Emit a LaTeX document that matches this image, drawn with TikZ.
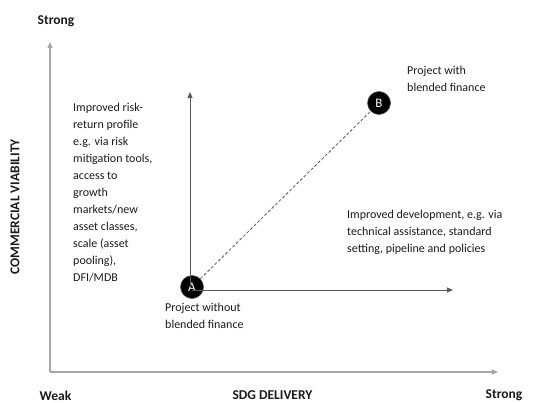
\documentclass[tikz,border=0pt]{standalone}
\usepackage{fontspec}
\setmainfont{Carlito}
\usetikzlibrary{arrows.meta}
\definecolor{axisgray}{HTML}{A6A6A6}
\definecolor{linegray}{HTML}{595959}
\definecolor{txt}{HTML}{1A1A1A}
\begin{document}
\begin{tikzpicture}[x=1pt,y=-1pt,
  axis/.style={draw=axisgray,line width=1.4pt,-{Triangle[length=6pt,width=5pt]}},
  move/.style={draw=linegray,line width=0.8pt,-{Triangle[length=6pt,width=5pt]}},
  pt/.style={circle,fill=black,draw=linegray,line width=0.6pt,minimum size=23pt,inner sep=0pt,text=white,font=\fontsize{13}{15}\selectfont},
  lbl/.style={font=\fontsize{13.5}{16}\selectfont\bfseries,text=txt,inner sep=0pt},
  body/.style={font=\fontsize{12}{17}\selectfont,text=txt,align=left,inner sep=0pt}]
\useasboundingbox (0,0) rectangle (534,403);
% axes
\coordinate (O) at (50,372);
\coordinate (ytop) at (50,42);
\coordinate (xend) at (498,372);
\draw[axis] (O) -- (ytop);
\draw[axis] (O) -- (xend);
% axis labels
\node[lbl] (ystrong) at (56,21) {Strong};
\node[lbl] (weak) at (55.5,395.5) {Weak};
\node[lbl] (sdg) at (272.5,395.5) {SDG DELIVERY};
\node[lbl] (xstrong) at (504,395.5) {Strong};
\node[lbl,rotate=90] (cv) at (15,207) {COMMERCIAL VIABILITY};
% projects
\node[pt] (A) at (192,287) {A};
\node[pt] (B) at (379,103) {B};
\coordinate (up) at (190,92);
\coordinate (right) at (453,290);
\draw[move] (190,287) -- (up);
\draw[move] (192,290) -- (right);
\draw[linegray,line width=0.8pt,dash pattern=on 3pt off 2pt] (A) -- (B);
% texts
\node[body,anchor=north west] (risk) at (73,103) {Improved risk-\\return profile\\e.g. via risk\\mitigation tools,\\access to\\growth\\markets/new\\asset classes,\\scale (asset\\pooling),\\DFI/MDB};
\node[body,anchor=north west] (dev) at (347,210) {Improved development, e.g. via\\technical assistance, standard\\setting, pipeline and policies};
\node[body,anchor=north west] (pb) at (407,66) {Project with\\blended finance};
\node[body,anchor=north west] (pa) at (165,303) {Project without\\blended finance};
\end{tikzpicture}
\end{document}
